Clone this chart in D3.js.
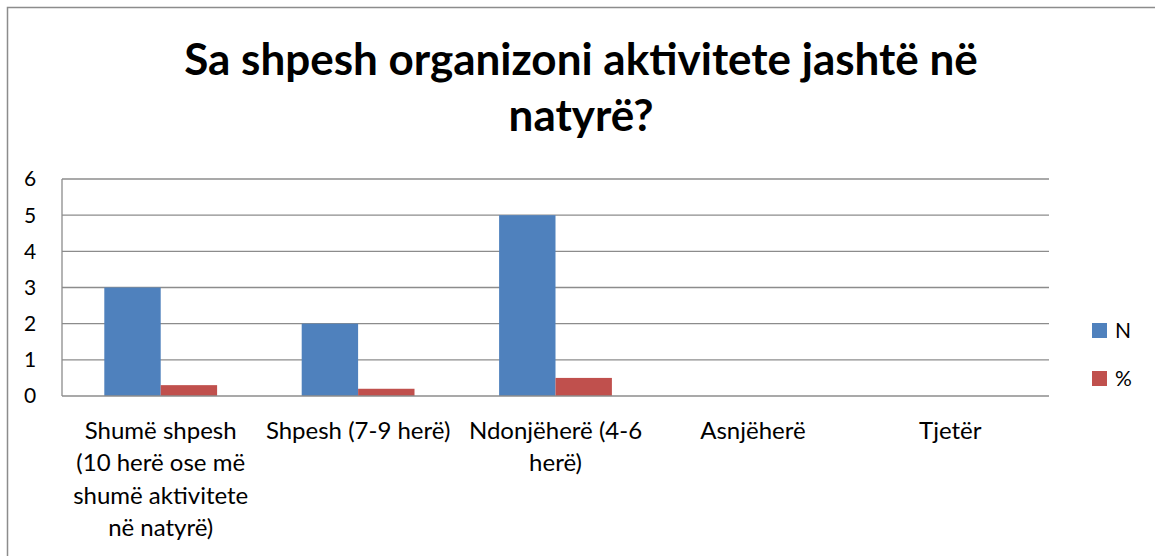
<!DOCTYPE html>
<html>
<head>
<meta charset="utf-8">
<script src="https://cdn.jsdelivr.net/npm/d3@7"></script>
<style>
html,body{margin:0;padding:0;background:#fff;}
svg{display:block;font-family:Lato, "Open Sans", sans-serif;}
</style>
</head>
<body>
<svg id="chart" width="1155" height="556"></svg>
<script>
const title = ["Sa shpesh organizoni aktivitete jashtë në", "natyrë?"];
const categories = [
  ["Shumë shpesh", "(10 herë ose më", "shumë aktivitete", "në natyrë)"],
  ["Shpesh (7-9 herë)"],
  ["Ndonjëherë (4-6", "herë)"],
  ["Asnjëherë"],
  ["Tjetër"]
];
const seriesNames = ["N", "%"];
const valuesN = [3, 2, 5, 0, 0];
const valuesPct = [0.3, 0.2, 0.5, 0, 0];
const yTicks = [0, 1, 2, 3, 4, 5, 6];
const colors = ["#4F81BD", "#C0504D"];

const svg = d3.select("#chart");
const W = 1155, H = 556;
const plot = {left: 62, right: 1049, top: 179, bottom: 396};

// outer frame
svg.append("rect").attr("x", 7.5).attr("y", 7.5).attr("width", W + 10).attr("height", H + 10)
  .attr("fill", "#fff").attr("stroke", "#8c8c8c").attr("stroke-width", 1.5);

// title
svg.append("text").attr("text-anchor", "middle").attr("font-weight", "bold")
  .attr("font-size", 44).attr("fill", "#000")
  .selectAll("tspan").data(title).join("tspan")
  .attr("x", 581).attr("y", (d, i) => 75 + i * 56).text(d => d);

const idx = categories.map((d, i) => i);
const x = d3.scaleBand().domain(idx).range([plot.left, plot.right]);
const y = d3.scaleLinear().domain([0, 6]).range([plot.bottom, plot.top]);

// gridlines
svg.append("g").selectAll("line").data(yTicks.filter(t => t > 0)).join("line")
  .attr("x1", plot.left).attr("x2", plot.right)
  .attr("y1", d => y(d)).attr("y2", d => y(d))
  .attr("stroke", "#8c8c8c").attr("stroke-width", 1.3);

// bars
const barW = x.bandwidth() / 3.5; // gap width 150%
const inner = d3.scaleBand().domain([0, 1]).range([0, barW * 2]);
const series = [valuesN, valuesPct];
series.forEach((vals, s) => {
  svg.append("g").selectAll("rect").data(vals).join("rect")
    .attr("x", (d, i) => x(i) + barW * 0.75 + inner(s))
    .attr("width", inner.bandwidth())
    .attr("y", d => y(d))
    .attr("height", d => y(0) - y(d))
    .attr("fill", colors[s]);
});

// axes lines
svg.append("line").attr("x1", plot.left).attr("x2", plot.left).attr("y1", plot.top).attr("y2", plot.bottom)
  .attr("stroke", "#8c8c8c").attr("stroke-width", 1.3);
svg.append("line").attr("x1", plot.left).attr("x2", plot.right).attr("y1", plot.bottom).attr("y2", plot.bottom)
  .attr("stroke", "#8c8c8c").attr("stroke-width", 1.3);

// y tick labels
svg.append("g").selectAll("text").data(yTicks).join("text")
  .attr("x", 30).attr("y", d => y(d)).attr("dy", "0.35em")
  .attr("text-anchor", "middle").attr("font-size", 21).attr("fill", "#000")
  .text(d => d);

// category labels
const cat = svg.append("g").selectAll("text").data(categories).join("text")
  .attr("text-anchor", "middle").attr("font-size", 24).attr("fill", "#000");
cat.selectAll("tspan").data((d, i) => d.map(t => ({t, i}))).join("tspan")
  .attr("x", d => x(d.i) + x.bandwidth() / 2)
  .attr("y", (d, j) => 439 + j * 32.3)
  .text(d => d.t);

// legend
const leg = svg.append("g").selectAll("g").data(seriesNames).join("g")
  .attr("transform", (d, i) => `translate(1092, ${323 + i * 48})`);
leg.append("rect").attr("width", 15).attr("height", 15).attr("fill", (d, i) => colors[i]);
leg.append("text").attr("x", 23).attr("y", 8).attr("dy", "0.35em").attr("font-size", 21)
  .attr("fill", "#000").text(d => d);
</script>
</body>
</html>
